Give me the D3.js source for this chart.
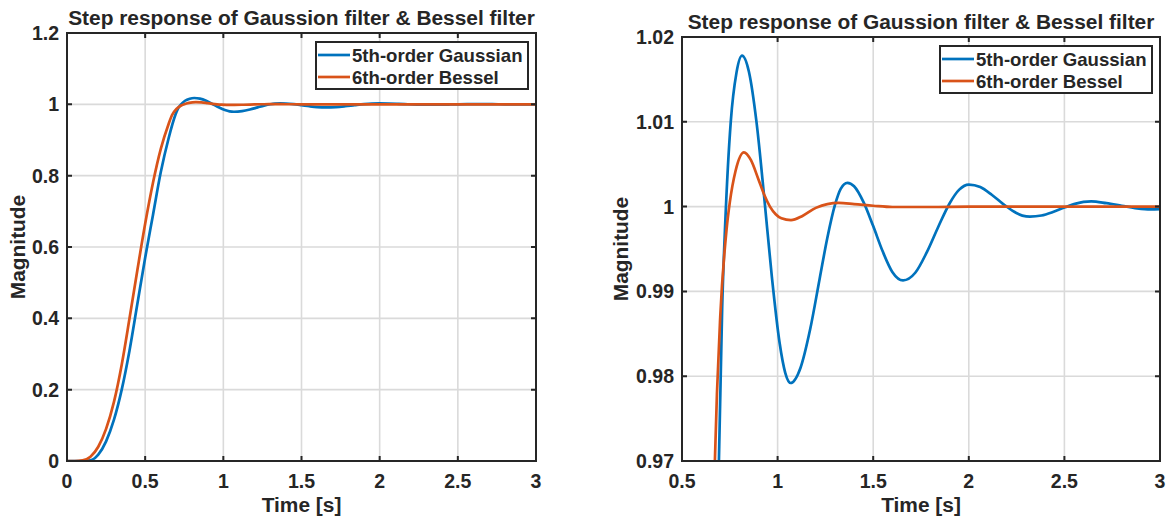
<!DOCTYPE html>
<html>
<head>
<meta charset="utf-8">
<script src="https://cdn.jsdelivr.net/npm/d3@7"></script>
<style>
  body { margin: 0; background: #fff; }
  text { font-family: "Liberation Sans", Arial, sans-serif; font-weight: bold; fill: #262626; }
</style>
</head>
<body>
<div id="chart"></div>
<script>
// values
var gaussTime = [0, 0.1, 0.15, 0.2, 0.25, 0.3, 0.35, 0.4, 0.45, 0.5, 0.55, 0.6, 0.65, 0.693, 0.71, 0.727, 0.755, 0.785, 0.814,
  0.85, 0.89, 0.93, 0.97, 1.01, 1.04, 1.068, 1.12, 1.17, 1.22, 1.26, 1.3, 1.33, 1.365, 1.4, 1.45, 1.5, 1.55, 1.6, 1.656,
  1.72, 1.78, 1.84, 1.9, 1.95, 2.0, 2.06, 2.12, 2.18, 2.24, 2.28, 2.32, 2.38, 2.44, 2.5, 2.56, 2.6, 2.64, 2.72, 2.8, 2.88, 2.95, 3.0];
var gaussMag = [0, 0, 0.002, 0.018, 0.055, 0.115, 0.2, 0.31, 0.44, 0.57, 0.69, 0.81, 0.905, 0.97, 0.988, 0.9985, 1.01, 1.0158, 1.0178,
  1.0159, 1.0099, 1.0011, 0.9917, 0.984, 0.9804, 0.9792, 0.981, 0.9855, 0.9915, 0.9963, 1.0002, 1.0021, 1.0028, 1.0024, 1.0005, 0.9977, 0.9947, 0.9923, 0.9913,
  0.9922, 0.9946, 0.9976, 1.0004, 1.002, 1.0026, 1.0023, 1.0014, 1.0003, 0.99936, 0.99894, 0.99882, 0.99895, 0.99936, 0.99989, 1.00035, 1.00055, 1.00062,
  1.0004, 1.0001, 0.9998, 0.99968, 0.9997];

var besselTime = [0, 0.05, 0.1, 0.15, 0.2, 0.25, 0.3, 0.35, 0.4, 0.45, 0.5, 0.55, 0.6, 0.65, 0.672, 0.7, 0.733, 0.75, 0.78, 0.824,
  0.86, 0.9, 0.93, 0.96, 0.99, 1.02, 1.07, 1.13, 1.2, 1.26, 1.32, 1.4, 1.5, 1.6, 1.8, 2.0, 2.5, 3.0];
var besselMag = [0, 0, 0.002, 0.012, 0.04, 0.09, 0.165, 0.27, 0.4, 0.535, 0.665, 0.78, 0.875, 0.945, 0.97, 0.987, 0.9973, 1.0005, 1.0042, 1.0064,
  1.0055, 1.0032, 1.0014, 1.0, 0.9991, 0.99862, 0.9984, 0.9989, 0.99985, 1.0003, 1.00043, 1.0003, 1.0001, 0.99995, 0.99995, 1.0, 1.0, 1.0];

var seriesNames = ["5th-order Gaussian", "6th-order Bessel"];
var seriesColors = ["#0072BD", "#D95319"];

var xTicksLeft = [0, 0.5, 1, 1.5, 2, 2.5, 3];
var yTicksLeft = [0, 0.2, 0.4, 0.6, 0.8, 1, 1.2];
var xTicksRight = [0.5, 1, 1.5, 2, 2.5, 3];
var yTicksRight = [0.97, 0.98, 0.99, 1, 1.01, 1.02];

var titleText = "Step response of Gaussion filter & Bessel filter";

var series = [
  gaussTime.map((t, i) => ({ t: t, v: gaussMag[i] })),
  besselTime.map((t, i) => ({ t: t, v: besselMag[i] }))
];

var svg = d3.select("#chart").append("svg")
  .attr("width", 1170)
  .attr("height", 520);

var fmt = v => String(+v.toFixed(2));

function drawPanel(p, id) {
  var x = d3.scaleLinear().domain(p.xd).range([p.left, p.right]);
  var y = d3.scaleLinear().domain(p.yd).range([p.bottom, p.top]);
  var g = svg.append("g");

  g.append("clipPath").attr("id", "clip" + id)
    .append("rect")
    .attr("x", p.left).attr("y", p.top)
    .attr("width", p.right - p.left).attr("height", p.bottom - p.top);

  // grid
  g.selectAll(".gx").data(p.xt).join("line")
    .attr("x1", d => x(d)).attr("x2", d => x(d))
    .attr("y1", p.top).attr("y2", p.bottom)
    .attr("stroke", "#dadada").attr("stroke-width", 1.6);
  g.selectAll(".gy").data(p.yt).join("line")
    .attr("y1", d => y(d)).attr("y2", d => y(d))
    .attr("x1", p.left).attr("x2", p.right)
    .attr("stroke", "#dadada").attr("stroke-width", 1.6);

  var line = d3.line().x(d => x(d.t)).y(d => y(d.v)).curve(d3.curveMonotoneX);

  g.append("g").attr("clip-path", "url(#clip" + id + ")")
    .selectAll("path").data(series).join("path")
    .attr("d", line)
    .attr("fill", "none")
    .attr("stroke", (d, i) => seriesColors[i])
    .attr("stroke-width", 2.7)
    .attr("stroke-linejoin", "round");

  // box
  g.append("rect")
    .attr("x", p.left).attr("y", p.top)
    .attr("width", p.right - p.left).attr("height", p.bottom - p.top)
    .attr("fill", "none").attr("stroke", "#262626").attr("stroke-width", 2);

  // ticks on all sides
  var tl = 5;
  g.selectAll(".tx").data(p.xt).join("path")
    .attr("d", d => `M${x(d)},${p.bottom}v${-tl}M${x(d)},${p.top}v${tl}`)
    .attr("stroke", "#262626").attr("stroke-width", 2);
  g.selectAll(".ty").data(p.yt).join("path")
    .attr("d", d => `M${p.left},${y(d)}h${tl}M${p.right},${y(d)}h${-tl}`)
    .attr("stroke", "#262626").attr("stroke-width", 2);

  g.selectAll(".lx").data(p.xt).join("text")
    .attr("x", d => x(d)).attr("y", p.bottom + 27)
    .attr("text-anchor", "middle").style("font-size", "19.5px")
    .text(fmt);
  g.selectAll(".ly").data(p.yt).join("text")
    .attr("x", p.left - 8).attr("y", d => y(d)).attr("dy", "0.36em")
    .attr("text-anchor", "end").style("font-size", "19.5px")
    .text(fmt);

  var cx = (p.left + p.right) / 2;
  g.append("text").attr("x", cx).attr("y", p.top - 8)
    .attr("text-anchor", "middle").style("font-size", "20.9px")
    .text(titleText);
  g.append("text").attr("x", cx).attr("y", 512)
    .attr("text-anchor", "middle").style("font-size", "20.9px")
    .text("Time [s]");
  g.append("text")
    .attr("transform", `translate(${p.ylab},${(p.top + p.bottom) / 2}) rotate(-90)`)
    .attr("dy", "0.35em")
    .attr("text-anchor", "middle").style("font-size", "20.9px")
    .text("Magnitude");

  // legend
  var lg = g.append("g").attr("transform", `translate(${p.right - 220},${p.top + 9})`);
  lg.append("rect").attr("width", 212).attr("height", 47)
    .attr("fill", "#fff").attr("stroke", "#262626").attr("stroke-width", 2);
  var item = lg.selectAll(".it").data(seriesNames).join("g")
    .attr("transform", (d, i) => `translate(0,${13 + i * 22})`);
  item.append("line").attr("x1", 2).attr("x2", 34)
    .attr("stroke", (d, i) => seriesColors[i]).attr("stroke-width", 2.7);
  item.append("text").attr("x", 36).attr("dy", "0.36em")
    .style("font-size", "18.6px").text(d => d);
}

drawPanel({ left: 67, right: 536, top: 33, bottom: 461, xd: [0, 3], yd: [0, 1.2],
  xt: xTicksLeft, yt: yTicksLeft, ylab: 18 }, "L");
drawPanel({ left: 682, right: 1160, top: 37, bottom: 461, xd: [0.5, 3], yd: [0.97, 1.02],
  xt: xTicksRight, yt: yTicksRight, ylab: 621 }, "R");
</script>
</body>
</html>
